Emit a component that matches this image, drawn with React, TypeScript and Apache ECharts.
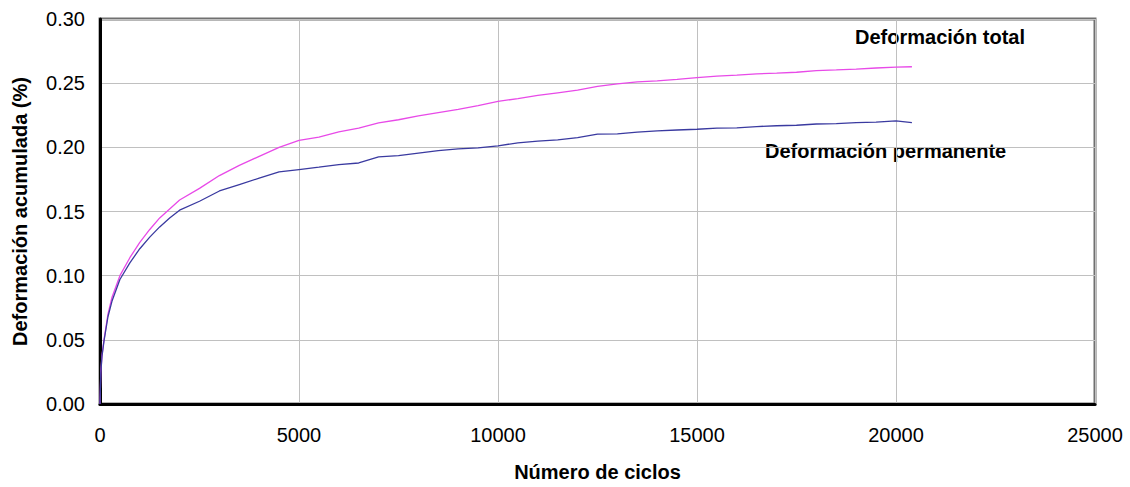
import React, { useEffect, useRef } from "react";
import * as echarts from "echarts";

const cycles = [
  0, 20, 50, 100, 200, 300, 500, 750, 1000, 1250, 1500, 1750, 2000, 2500, 3000,
  3500, 4000, 4500, 5000, 5500, 6000, 6500, 7000, 7500, 8000, 8500, 9000, 9500,
  10000, 10500, 11000, 11500, 12000, 12500, 13000, 13500, 14000, 14500, 15000,
  15500, 16000, 16500, 17000, 17500, 18000, 18500, 19000, 19500, 20000, 20400,
];

const totalDeformation = [
  0, 0.025, 0.038, 0.05, 0.07, 0.083, 0.1, 0.114, 0.126, 0.136, 0.145, 0.152,
  0.159, 0.168, 0.178, 0.186, 0.193, 0.2, 0.2055, 0.208, 0.212, 0.215, 0.219,
  0.2215, 0.2245, 0.227, 0.2295, 0.2325, 0.2358, 0.238, 0.2405, 0.2425, 0.2445,
  0.2475, 0.2495, 0.251, 0.2518, 0.253, 0.2543, 0.2555, 0.2562, 0.2572, 0.2578,
  0.2585, 0.2598, 0.2603, 0.261, 0.2618, 0.2625, 0.2628,
];

const permanentDeformation = [
  0, 0.024, 0.037, 0.049, 0.068, 0.08, 0.097, 0.11, 0.121, 0.13, 0.138, 0.145,
  0.151, 0.158, 0.166, 0.171, 0.176, 0.1809, 0.1827, 0.1845, 0.1865, 0.1878,
  0.1926, 0.1935, 0.1955, 0.1975, 0.1988, 0.1995, 0.2012, 0.2035, 0.2048,
  0.2058, 0.2075, 0.2103, 0.2105, 0.2118, 0.2128, 0.2135, 0.2141, 0.215, 0.2152,
  0.2162, 0.2168, 0.2172, 0.2182, 0.2185, 0.2192, 0.2196, 0.2206, 0.2193,
];

const yTicks = ["0.00", "0.05", "0.10", "0.15", "0.20", "0.25", "0.30"];
const xTicks = ["0", "5000", "10000", "15000", "20000", "25000"];

const FONT = "'Liberation Sans', Arial, sans-serif";

export default function App() {
  const ref = useRef<HTMLDivElement>(null);
  useEffect(() => {
    if (!ref.current) return;
    const chart = echarts.init(ref.current, undefined, { renderer: "svg" });
    chart.setOption({
      animation: false,
      backgroundColor: "#ffffff",
      textStyle: { fontFamily: FONT },
      grid: {
        left: 100,
        right: 35,
        top: 19,
        bottom: 82,
        show: true,
        borderColor: "#707070",
        borderWidth: 3,
        backgroundColor: "transparent",
      },
      xAxis: {
        type: "value",
        min: 0,
        max: 25000,
        interval: 5000,
        name: "Número de ciclos",
        nameLocation: "middle",
        nameGap: 58,
        nameTextStyle: { fontFamily: FONT, fontSize: 20, fontWeight: "bold", color: "#000" },
        axisLine: { show: true, onZero: false, lineStyle: { color: "#000", width: 3 } },
        axisTick: { show: false },
        axisLabel: {
          fontFamily: FONT,
          fontSize: 20,
          color: "#000",
          margin: 21,
          formatter: (v: number) => xTicks[Math.round(v / 5000)] ?? String(v),
        },
        splitLine: { show: true, lineStyle: { color: "#c0c0c0", width: 1 } },
      },
      yAxis: {
        type: "value",
        min: 0,
        max: 0.3,
        interval: 0.05,
        name: "Deformación acumulada (%)",
        nameLocation: "middle",
        nameGap: 70,
        nameTextStyle: { fontFamily: FONT, fontSize: 20, fontWeight: "bold", color: "#000" },
        axisLine: { show: true, onZero: false, lineStyle: { color: "#000", width: 3 } },
        axisTick: { show: false },
        axisLabel: {
          fontFamily: FONT,
          fontSize: 20,
          color: "#000",
          margin: 15,
          formatter: (v: number) => yTicks[Math.round(v / 0.05)] ?? v.toFixed(2),
        },
        splitLine: { show: true, lineStyle: { color: "#c0c0c0", width: 1 } },
      },
      series: [
        {
          name: "Deformación total",
          type: "line",
          data: cycles.map((c, i) => [c, totalDeformation[i]]),
          showSymbol: false,
          lineStyle: { color: "#e84ae8", width: 1.3 },
          z: 3,
        },
        {
          name: "Deformación permanente",
          type: "line",
          data: cycles.map((c, i) => [c, permanentDeformation[i]]),
          showSymbol: false,
          lineStyle: { color: "#3a3aa0", width: 1.3 },
          z: 4,
        },
      ],
      graphic: [
        {
          type: "text",
          left: 855,
          top: 27,
          style: {
            text: "Deformación total",
            fontFamily: FONT,
            fontSize: 20,
            fontWeight: "bold",
            fill: "#000",
          },
        },
        {
          type: "text",
          left: 765,
          top: 141,
          style: {
            text: "Deformación permanente",
            fontFamily: FONT,
            fontSize: 20,
            fontWeight: "bold",
            fill: "#000",
          },
        },
      ],
    });
    return () => chart.dispose();
  }, []);
  return (
    <div
      ref={ref}
      style={{ position: "fixed", left: 0, top: 0, width: 1130, height: 487, background: "#fff" }}
    />
  );
}
